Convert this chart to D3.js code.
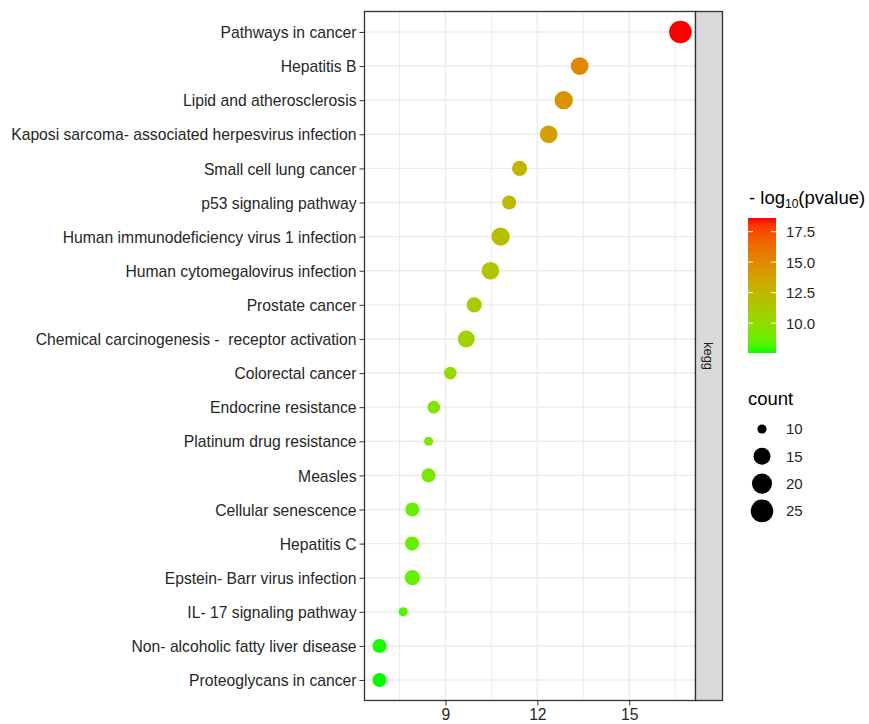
<!DOCTYPE html>
<html lang="en">
<head>
<meta charset="UTF-8" />
<script src="https://d3js.org/d3.v7.min.js"></script>
<title>KEGG dot plot</title>
<style>
  body { margin: 0; background: #fff; }
  svg text { font-family: "Liberation Sans", Arial, sans-serif; white-space: pre; }
  .grid line { stroke: #ebebeb; }
  .axis path { display: none; }
  .axis line { stroke: #333; }
  .axis text { fill: #262626; font-size: 15.7px; }
</style>
</head>
<body>
<script>
// pathway terms, top to bottom
var terms = [
  "Pathways in cancer", "Hepatitis B", "Lipid and atherosclerosis",
  "Kaposi sarcoma- associated herpesvirus infection", "Small cell lung cancer",
  "p53 signaling pathway", "Human immunodeficiency virus 1 infection",
  "Human cytomegalovirus infection", "Prostate cancer",
  "Chemical carcinogenesis -  receptor activation", "Colorectal cancer",
  "Endocrine resistance", "Platinum drug resistance", "Measles",
  "Cellular senescence", "Hepatitis C", "Epstein- Barr virus infection",
  "IL- 17 signaling pathway", "Non- alcoholic fatty liver disease",
  "Proteoglycans in cancer"
];
// x position of each dot
var xvals = [16.67, 13.38, 12.86, 12.37, 11.42, 11.08, 10.80, 10.47, 9.94, 9.68,
             9.16, 8.62, 8.45, 8.45, 7.92, 7.91, 7.92, 7.62, 6.85, 6.85];
// -log10(pvalue), colour
var pvals = [18.62, 15.05, 14.38, 13.77, 12.70, 12.30, 11.93, 11.56, 10.99, 10.68,
             10.12, 9.56, 9.34, 9.30, 8.72, 8.70, 8.67, 8.38, 7.61, 7.55];
// gene count, size
var counts = [25, 16, 17, 16, 13, 12, 17, 16, 13, 15,
              11, 11, 10, 12, 12, 12, 13, 10, 12, 12];
var xTicks = [9, 12, 15];
var colorTicks = [10, 12.5, 15, 17.5];
var sizeTicks = [10, 15, 20, 25];

var W = 869, H = 724;
var pL = 364.5, pR = 695.5, pT = 11.5, pB = 700.5;

var svg = d3.select("body").append("svg").attr("width", W).attr("height", H);

var ext = d3.extent(xvals), pad = (ext[1] - ext[0]) * 0.05;
var x = d3.scaleLinear().domain([ext[0] - pad, ext[1] + pad]).range([pL, pR]);
var y = d3.scalePoint().domain(terms).range([pT, pB]).padding(0.6);

var pext = d3.extent(pvals);
var color = d3.scaleLinear().domain(pext).range(["#00ff00", "#ff0000"])
  .interpolate(d3.interpolateLab);

var cext = d3.extent(counts);
var rs = d3.scaleSqrt().domain([0, cext[1] - cext[0]]).range([4.6, 11.3]);
function radius(c) { return rs(Math.max(0, c - cext[0])); }

// grid
var grid = svg.append("g").attr("class", "grid");
var minor = [];
for (var i = 0; i < xTicks.length + 1; i++) minor.push(xTicks[0] - 1.5 + i * 3);
grid.selectAll(".minor").data(minor.filter(function (d) {
    return d > x.domain()[0] && d < x.domain()[1]; }))
  .enter().append("line")
  .attr("x1", d => x(d)).attr("x2", d => x(d))
  .attr("y1", pT).attr("y2", pB).attr("stroke-width", 1);
grid.selectAll(".major").data(xTicks).enter().append("line")
  .attr("x1", d => x(d)).attr("x2", d => x(d))
  .attr("y1", pT).attr("y2", pB).attr("stroke-width", 1.4);
grid.selectAll(".hz").data(terms).enter().append("line")
  .attr("x1", pL).attr("x2", pR)
  .attr("y1", d => y(d)).attr("y2", d => y(d)).attr("stroke-width", 1.4);

// points, smallest on top
var idx = d3.range(terms.length).sort((a, b) => counts[b] - counts[a]);
svg.append("g").selectAll("circle").data(idx).enter().append("circle")
  .attr("cx", i => x(xvals[i]))
  .attr("cy", i => y(terms[i]))
  .attr("r", i => radius(counts[i]))
  .attr("fill", i => color(pvals[i]));

// panel border
svg.append("rect").attr("x", pL).attr("y", pT)
  .attr("width", pR - pL).attr("height", pB - pT)
  .attr("fill", "none").attr("stroke", "#333").attr("stroke-width", 1.3);

// strip
var stripW = 27;
svg.append("rect").attr("x", pR).attr("y", pT)
  .attr("width", stripW).attr("height", pB - pT)
  .attr("fill", "#d9d9d9").attr("stroke", "#333").attr("stroke-width", 1.3);
svg.append("text")
  .attr("transform", "translate(" + (pR + stripW / 2) + "," + ((pT + pB) / 2) + ") rotate(90)")
  .attr("text-anchor", "middle").attr("dy", "0.35em")
  .attr("fill", "#1a1a1a").style("font-size", "13px").text("kegg");

// axes
svg.append("g").attr("class", "axis")
  .attr("transform", "translate(" + pL + ",0)")
  .call(d3.axisLeft(y).tickSize(5).tickPadding(3))
  .selectAll("text").attr("dy", "0.36em");
svg.append("g").attr("class", "axis")
  .attr("transform", "translate(0," + pB + ")")
  .call(d3.axisBottom(x).tickValues(xTicks).tickSize(5).tickPadding(3));

// colour legend
var lx = 748, ly = 218, lw = 28, lh = 135;
var title = svg.append("text").attr("x", lx + 1).attr("y", 204)
  .attr("fill", "#000").style("font-size", "18.5px");
title.append("tspan").text("- log");
title.append("tspan").attr("dy", 4).style("font-size", "12px").text("10");
title.append("tspan").attr("dy", -4).text("(pvalue)");

var grad = svg.append("defs").append("linearGradient").attr("id", "cbar")
  .attr("x1", 0).attr("y1", 1).attr("x2", 0).attr("y2", 0);
grad.selectAll("stop").data(d3.range(0, 1.0001, 0.05)).enter().append("stop")
  .attr("offset", d => d)
  .attr("stop-color", d => color(pext[0] + d * (pext[1] - pext[0])));
var cy = d3.scaleLinear().domain(pext).range([ly + lh, ly]);
svg.append("rect").attr("x", lx).attr("y", ly).attr("width", lw).attr("height", lh)
  .attr("fill", "url(#cbar)");
var ct = svg.append("g").selectAll("g").data(colorTicks).enter().append("g");
ct.append("line").attr("x1", lx).attr("x2", lx + 5)
  .attr("y1", d => cy(d)).attr("y2", d => cy(d)).attr("stroke", "#fff");
ct.append("line").attr("x1", lx + lw - 5).attr("x2", lx + lw)
  .attr("y1", d => cy(d)).attr("y2", d => cy(d)).attr("stroke", "#fff");
ct.append("text").attr("x", lx + lw + 10).attr("y", d => cy(d)).attr("dy", "0.36em")
  .attr("fill", "#262626").style("font-size", "15px").text(d => d.toFixed(1));

// size legend
svg.append("text").attr("x", lx).attr("y", 405).attr("fill", "#000")
  .style("font-size", "18.5px").text("count");
var sg = svg.append("g").selectAll("g").data(sizeTicks).enter().append("g")
  .attr("transform", (d, i) => "translate(0," + (429 + i * 27.3) + ")");
sg.append("circle").attr("cx", 762).attr("cy", 0).attr("r", d => radius(d)).attr("fill", "#000");
sg.append("text").attr("x", 786).attr("y", 0).attr("dy", "0.36em")
  .attr("fill", "#262626").style("font-size", "15px").text(d => d);
</script>
</body>
</html>
